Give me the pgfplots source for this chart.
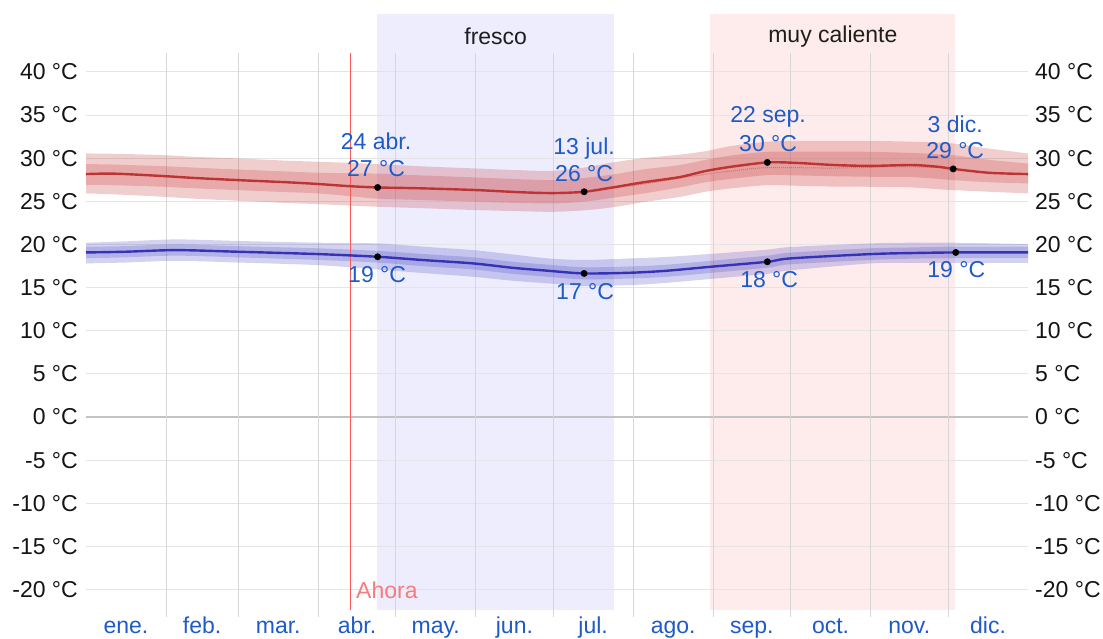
\documentclass[border=0pt]{standalone}
\usepackage{fontspec}
\setmainfont{Liberation Sans}
\usepackage{pgfplots}
\pgfplotsset{compat=1.18}
\usepgfplotslibrary{fillbetween}
\usepackage{pgfplotstable}

\definecolor{hiline}{RGB}{188,52,52}
\definecolor{hiband}{RGB}{200,60,60}
\definecolor{loline}{RGB}{55,50,180}
\definecolor{loband}{RGB}{80,80,200}
\definecolor{coolbg}{RGB}{237,237,254}
\definecolor{hotbg}{RGB}{254,236,236}
\definecolor{lbl}{RGB}{30,90,200}
\definecolor{nowc}{RGB}{250,90,90}
\definecolor{nowt}{RGB}{245,125,125}
\definecolor{gridc}{RGB}{228,228,228}
\definecolor{vgrid}{RGB}{215,215,215}
\definecolor{zeroc}{RGB}{195,195,195}
\definecolor{tickc}{RGB}{20,20,20}
\definecolor{bandtxt}{RGB}{30,30,30}

\pgfplotstableread{
x m il ih ol oh
0 28.15 26.87 29.31 25.91 30.54
11 28.20 26.85 29.25 25.80 30.50
30 27.92 26.68 29.07 25.52 30.35
42 27.70 26.50 28.90 25.30 30.15
59 27.45 26.29 28.68 25.06 29.96
78 27.20 26.05 28.45 24.80 29.70
90 27.00 25.91 28.30 24.67 29.58
102 26.75 25.60 28.25 24.50 29.45
113 26.60 25.30 28.20 24.36 29.30
130 26.50 25.15 28.00 24.20 29.05
151 26.30 24.94 27.76 23.98 28.80
168 26.05 24.80 27.55 23.85 28.60
181 25.95 24.75 27.45 23.78 28.53
193 26.10 24.95 27.70 23.95 28.90
204 26.60 25.40 28.10 24.30 29.50
216 27.20 25.90 28.70 24.90 30.00
230 27.80 26.60 29.20 25.50 30.40
240 28.50 27.20 29.80 26.10 30.80
250 29.00 27.60 30.30 26.50 31.40
264 29.50 28.03 30.73 26.87 31.90
275 29.45 28.00 30.75 26.80 32.00
290 29.20 27.90 30.75 26.70 32.00
304 29.10 27.84 30.73 26.68 32.00
320 29.20 27.80 30.60 26.60 31.90
330 29.00 27.60 30.45 26.40 31.80
336 28.75 27.45 30.35 26.29 31.70
350 28.30 27.20 29.80 26.10 31.10
365 28.15 27.07 29.38 25.91 30.54
}\high

\pgfplotstableread{
x m il ih ol oh
0 19.07 18.40 19.73 17.80 20.19
15 19.15 18.50 19.80 17.90 20.35
35 19.34 18.70 20.00 18.10 20.58
59 19.15 18.50 19.80 17.90 20.40
90 18.88 18.20 19.55 17.60 20.20
113 18.57 17.90 19.25 17.10 20.12
130 18.20 17.50 18.90 16.70 19.75
150 17.80 17.10 18.50 16.25 19.34
165 17.30 16.60 18.00 15.80 18.85
179 16.95 16.25 17.65 15.49 18.38
193 16.64 15.95 17.35 15.20 18.20
211 16.72 16.05 17.45 15.29 18.38
225 16.95 16.25 17.65 15.55 18.55
242 17.41 16.70 18.10 16.00 18.90
264 17.99 17.30 18.70 16.60 19.40
273 18.38 17.70 19.05 17.00 19.70
304 18.88 18.20 19.55 17.80 20.12
320 19.00 18.35 19.65 17.85 20.20
337 19.07 18.40 19.75 17.85 20.20
365 19.07 18.40 19.73 17.87 20.04
}\low

\begin{document}
\begin{tikzpicture}[font=\fontsize{23}{27}\selectfont]
\begin{axis}[
  name=ax, set layers, scale only axis, width=942pt, height=596pt,
  xmin=0, xmax=365, ymin=-22.36, ymax=46.7, clip=false,
  axis line style={draw=none}, major tick length=0pt,
  ytick={-20,-15,...,40},
  yticklabel={\pgfmathparse{int(round(\tick))}\pgfmathresult~°C},
  yticklabel style={text=tickc, inner sep=0pt, xshift=-8pt},
  ymajorgrids, grid style={gridc, line width=0.9pt},
  extra y ticks={0}, extra y tick labels={},
  extra y tick style={grid style={zeroc, line width=1.1pt}},
  xtick={15.5,45,74.5,105,135.5,166,196.5,227.5,258,288.5,319,349.5},
  xticklabels={ene.,feb.,mar.,abr.,may.,jun.,jul.,ago.,sep.,oct.,nov.,dic.},
  xticklabel style={text=lbl, inner sep=0pt, anchor=base, yshift=-23pt},
]
% season shading
\addplot[on layer=axis background, draw=none, fill=coolbg, forget plot]
  coordinates {(112.8,-22.36) (204.7,-22.36) (204.7,46.7) (112.8,46.7)} -- cycle;
\addplot[on layer=axis background, draw=none, fill=hotbg, forget plot]
  coordinates {(241.9,-22.36) (336.8,-22.36) (336.8,46.7) (241.9,46.7)} -- cycle;
% month gridlines
\pgfplotsinvokeforeach{31,59,90,120,151,181,212,243,273,304,334}{
  \addplot[on layer=axis grid, vgrid, line width=0.9pt, forget plot]
    coordinates {(#1,42.2) (#1,-23.2)};
}
% now line
\addplot[nowc, line width=1pt, forget plot] coordinates {(102.3,42.2) (102.3,-22.36)};
\node[nowt, anchor=west, inner sep=0pt] at (axis cs:102.3,-20.04) [xshift=6pt] {Ahora};
% high bands
\addplot[name path=hoh, draw=none, smooth, forget plot] table[x=x,y=oh]{\high};
\addplot[name path=hol, draw=none, smooth, forget plot] table[x=x,y=ol]{\high};
\addplot[hiband, fill opacity=0.25, draw=none, forget plot] fill between[of=hoh and hol];
\addplot[name path=hih, draw=none, smooth, forget plot] table[x=x,y=ih]{\high};
\addplot[name path=hil, draw=none, smooth, forget plot] table[x=x,y=il]{\high};
\addplot[hiband, fill opacity=0.25, draw=none, forget plot] fill between[of=hih and hil];
% low bands
\addplot[name path=loh, draw=none, smooth, forget plot] table[x=x,y=oh]{\low};
\addplot[name path=lol, draw=none, smooth, forget plot] table[x=x,y=ol]{\low};
\addplot[loband, fill opacity=0.25, draw=none, forget plot] fill between[of=loh and lol];
\addplot[name path=lih, draw=none, smooth, forget plot] table[x=x,y=ih]{\low};
\addplot[name path=lil, draw=none, smooth, forget plot] table[x=x,y=il]{\low};
\addplot[loband, fill opacity=0.25, draw=none, forget plot] fill between[of=lih and lil];
% dotted perceived line
\addplot[hiline!70, densely dotted, line width=1pt, smooth] coordinates {
  (204,26.5) (216,27.0) (237,28.0) (250,28.5) (264,28.9) (290,28.85) (315,29.0) (330,28.9)};
% mean lines
\addplot[hiline, line width=2.4pt, smooth] table[x=x,y=m]{\high};
\addplot[loline, line width=2.4pt, smooth] table[x=x,y=m]{\low};
% marked points
\addplot[only marks, mark=*, mark size=3.2pt, black] coordinates {
  (113,26.6) (193,26.1) (264,29.5) (336,28.75)};
\addplot[only marks, mark=*, mark size=3.2pt, black] coordinates {
  (113,18.57) (193,16.64) (264,17.99) (337,19.07)};
% labels
\node[lbl, inner sep=0pt] at (axis cs:112.4,31.97) {24 abr.};
\node[lbl, inner sep=0pt] at (axis cs:112.4,28.73) {27 °C};
\node[lbl, inner sep=0pt] at (axis cs:193,31.16) {13 jul.};
\node[lbl, inner sep=0pt] at (axis cs:193,28.26) {26 °C};
\node[lbl, inner sep=0pt] at (axis cs:264.3,34.75) {22 sep.};
\node[lbl, inner sep=0pt] at (axis cs:264.3,31.74) {30 °C};
\node[lbl, inner sep=0pt] at (axis cs:336.8,33.94) {3 dic.};
\node[lbl, inner sep=0pt] at (axis cs:336.8,30.93) {29 °C};
\node[lbl, inner sep=0pt] at (axis cs:112.8,16.56) {19 °C};
\node[lbl, inner sep=0pt] at (axis cs:193.4,14.48) {17 °C};
\node[lbl, inner sep=0pt] at (axis cs:264.7,15.87) {18 °C};
\node[lbl, inner sep=0pt] at (axis cs:337.2,17.03) {19 °C};
\node[bandtxt, inner sep=0pt] at (axis cs:158.75,44.13) {fresco};
\node[bandtxt, inner sep=0pt] at (axis cs:289.4,44.13) {muy caliente};
\end{axis}
\begin{axis}[
  scale only axis, width=942pt, height=596pt,
  xmin=0, xmax=365, ymin=-22.36, ymax=46.7,
  axis line style={draw=none}, major tick length=0pt,
  xtick=\empty, ytick={-20,-15,...,40},
  yticklabel pos=right,
  yticklabel={\pgfmathparse{int(round(\tick))}\pgfmathresult~°C},
  yticklabel style={text=tickc, inner sep=0pt, xshift=7pt},
]
\end{axis}
\pgfresetboundingbox
\path ([shift={(-86pt,-28pt)}]ax.south west) rectangle ([shift={(1017pt,610pt)}]ax.south west);
\end{tikzpicture}
\end{document}
